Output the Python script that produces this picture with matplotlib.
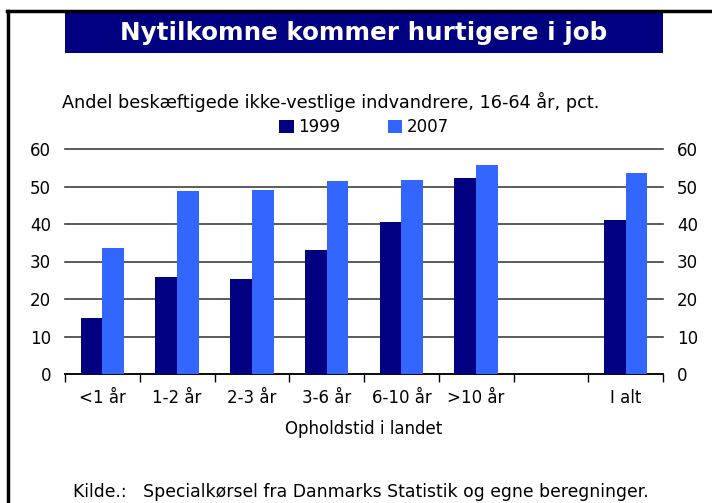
import numpy as np
import matplotlib.pyplot as plt
from matplotlib import patches, lines

# data
categories = ["<1 år", "1-2 år", "2-3 år", "3-6 år", "6-10 år", ">10 år", "", "I alt"]
v1999 = [15.0, 25.9, 25.3, 33.1, 40.5, 52.3, np.nan, 41.1]
v2007 = [33.6, 48.8, 49.1, 51.5, 51.7, 55.7, np.nan, 53.6]
series_names = ["1999", "2007"]
yticks = [0, 10, 20, 30, 40, 50, 60]

navy = "#000080"
blue = "#3366FF"
W, H = 712, 503
fs = 12

plt.rcParams['font.family'] = ['DejaVu Sans']
fig = plt.figure(figsize=(W / 100, H / 100), dpi=100)

# frame lines (top and left)
fig.add_artist(lines.Line2D([7 / W, 1], [1 - 11 / H, 1 - 11 / H], color="black", lw=2.5))
fig.add_artist(lines.Line2D([8 / W, 8 / W], [0, 1 - 11 / H], color="black", lw=2.5))

# title box
fig.add_artist(patches.Rectangle((65 / W, 1 - 53 / H), (663 - 65) / W, 41 / H,
                                 facecolor=navy, edgecolor="none"))
fig.text(364 / W, 1 - 33 / H, "Nytilkomne kommer hurtigere i job", color="white",
         fontsize=17.7, fontweight="bold", ha="center", va="center")

fig.text(62 / W, 1 - 102 / H, "Andel beskæftigede ikke-vestlige indvandrere, 16-64 år, pct.",
         fontsize=12.7, ha="left", va="center")

ax = fig.add_axes([65 / W, (H - 374) / H, 598 / W, 225 / H])
x = np.arange(len(categories))
bw = 0.29
b1 = ax.bar(x - bw / 2, v1999, bw, color=navy, zorder=3)
b2 = ax.bar(x + bw / 2, v2007, bw, color=blue, zorder=3)

ax.set_xlim(-0.5, len(categories) - 0.5)
ax.set_ylim(0, 60)
ax.set_yticks(yticks)
ax.yaxis.grid(True, color="#404040", lw=1.2, zorder=0)
for gl in ax.get_ygridlines():
    gl.set_clip_on(False)
ax.tick_params(axis="y", length=0, labelsize=fs, pad=10, labelright=True, labelleft=True)
for side in ["top", "left", "right"]:
    ax.spines[side].set_visible(False)
ax.spines["bottom"].set_color("black")
ax.spines["bottom"].set_linewidth(1.2)

ax.set_xticks(np.arange(len(categories) + 1) - 0.5)
ax.set_xticklabels([])
ax.set_xticks(x, minor=True)
ax.set_xticklabels(categories, minor=True)
ax.tick_params(axis="x", which="major", direction="out", length=6, width=1, color="black")
ax.tick_params(axis="x", which="minor", length=0, labelsize=fs, pad=11)
ax.set_xlabel("Opholdstid i landet", fontsize=fs, labelpad=9)

fig.legend([b1, b2], series_names, loc="center", bbox_to_anchor=(364 / W, 1 - 127 / H),
           ncol=2, frameon=False, fontsize=fs, handlelength=0.85, handleheight=0.85,
           handletextpad=0.25, columnspacing=2.9)

fig.text(73 / W, 1 - 492 / H, "Kilde.:   Specialkørsel fra Danmarks Statistik og egne beregninger.",
         fontsize=12.45, ha="left", va="center")

fig.savefig("out.png", dpi=100)
